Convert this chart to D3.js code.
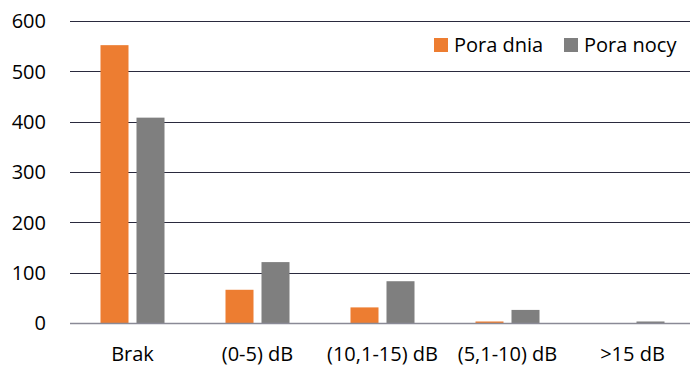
<!DOCTYPE html>
<html>
<head>
<meta charset="utf-8">
<script src="https://cdnjs.cloudflare.com/ajax/libs/d3/7.8.5/d3.min.js"></script>
<style>
  body { margin: 0; background: #fff; }
  text { font-family: "Open Sans", sans-serif; fill: #000; }
</style>
</head>
<body>
<svg width="694" height="367"></svg>
<script>
// Data
const categories = ["Brak", "(0-5) dB", "(10,1-15) dB", "(5,1-10) dB", ">15 dB"];
const seriesNames = ["Pora dnia", "Pora nocy"];
const dayValues = [552, 66, 31, 3, 0];
const nightValues = [408, 121, 83, 26, 3];
const yTicks = [0, 100, 200, 300, 400, 500, 600];
const colors = ["#ED7D31", "#7F7F7F"];

const svg = d3.select("svg");

const x = d3.scaleBand()
    .domain(categories)
    .range([70, 695]);

const y = d3.scaleLinear()
    .domain([0, 600])
    .range([323, 21]);

const barW = 28, gap = 8;

// Gridlines
svg.append("g")
  .selectAll("line")
  .data(yTicks.filter(d => d > 0))
  .join("line")
    .attr("x1", 70)
    .attr("x2", 690)
    .attr("y1", d => Math.round(y(d)) + 0.5)
    .attr("y2", d => Math.round(y(d)) + 0.5)
    .attr("stroke", "#2a2a3e")
    .attr("stroke-width", 1);

// Y axis labels
svg.append("g")
  .selectAll("text")
  .data(yTicks)
  .join("text")
    .attr("x", 46)
    .attr("y", d => y(d))
    .attr("dy", "0.36em")
    .attr("text-anchor", "end")
    .style("font-size", "20px")
    .text(d => d);

// Bars
const series = [dayValues, nightValues];
series.forEach((vals, s) => {
    svg.append("g")
      .selectAll("rect")
      .data(vals)
      .join("rect")
        .attr("x", (d, i) => x(categories[i]) + x.bandwidth() / 2 + (s === 0 ? -gap / 2 - barW : gap / 2))
        .attr("y", d => y(d))
        .attr("width", barW)
        .attr("height", d => y(0) - y(d))
        .attr("fill", colors[s]);
});

// Baseline
svg.append("line")
    .attr("x1", 70)
    .attr("x2", 690)
    .attr("y1", Math.round(y(0)) + 0.5)
    .attr("y2", Math.round(y(0)) + 0.5)
    .attr("stroke", "#8a8a96")
    .attr("stroke-width", 1.5);

// Category labels
svg.append("g")
  .selectAll("text")
  .data(categories)
  .join("text")
    .attr("x", d => x(d) + x.bandwidth() / 2)
    .attr("y", 361)
    .attr("text-anchor", "middle")
    .style("font-size", "20px")
    .text(d => d);

// Legend
const legendX = [434, 564];
seriesNames.forEach((name, i) => {
    svg.append("rect")
        .attr("x", legendX[i])
        .attr("y", 38)
        .attr("width", 14)
        .attr("height", 14)
        .attr("fill", colors[i]);
    svg.append("text")
        .attr("x", legendX[i] + 20)
        .attr("y", 52)
        .style("font-size", "20px")
        .text(name);
});
</script>
</body>
</html>
